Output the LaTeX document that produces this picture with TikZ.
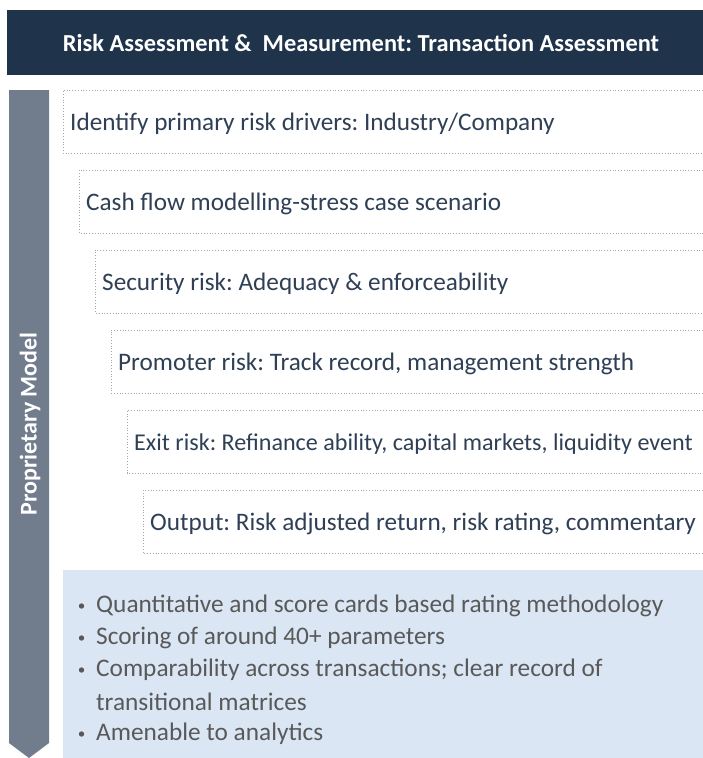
\documentclass[tikz,border=0pt]{standalone}
\usepackage{fontspec}
\setmainfont{Carlito}
\frenchspacing
\definecolor{navy}{HTML}{1F344A}
\definecolor{slatebar}{HTML}{717C8D}
\definecolor{itemtext}{HTML}{2F3F55}
\definecolor{dotgray}{HTML}{A6A6A6}
\definecolor{lightblue}{HTML}{DAE6F4}
\definecolor{bullettext}{HTML}{595959}
\begin{document}
\begin{tikzpicture}[x=1pt,y=-1pt,
  stepbox/.style={draw=dotgray, line width=0.8pt, dash pattern=on 0.8pt off 2pt},
  itemlabel/.style={anchor=west, inner sep=0pt, text=itemtext},
  bulletline/.style={anchor=west, inner sep=0pt, text=bullettext, font=\frenchspacing\fontsize{25.3}{29}\selectfont}]
\useasboundingbox (0,0) rectangle (703,758);
% header
\fill[navy] (7,10) rectangle (703,75);
\node[text=white, font=\frenchspacing\bfseries\fontsize{24.4}{28}\selectfont] (title) at (361,43) {Risk Assessment \&\ \ Measurement: Transaction Assessment};
% side arrow
\fill[slatebar] (9,90) -- (49,90) -- (49,743) -- (29,758) -- (9,743) -- cycle;
\node[rotate=90, text=white, font=\bfseries\fontsize{24}{28}\selectfont] (side) at (30,424) {Proprietary Model};
% stepped boxes
\foreach \i/\fs/\t in {0/25.2/{Identify primary risk drivers: Industry/Company},
                   1/25.2/{Cash flow modelling-stress case scenario},
                   2/25.2/{Security risk: Adequacy \& enforceability},
                   3/25.2/{Promoter risk: Track record, management strength},
                   4/24.1/{Exit risk: Refinance ability, capital markets, liquidity event},
                   5/25.2/{Output: Risk adjusted return, risk rating, commentary}}{
  \pgfmathsetmacro{\xl}{63+16*\i}
  \pgfmathsetmacro{\yt}{90+80*\i}
  \pgfmathsetmacro{\yb}{153+80*\i}
  \draw[stepbox] (703,\yt) -- (\xl,\yt) -- (\xl,\yb) -- (703,\yb);
  \node[itemlabel, font=\frenchspacing\fontsize{\fs}{29}\selectfont] (item\i) at (\xl+7,\yt+34) {\t};
}
% summary box
\fill[lightblue] (63,570) rectangle (703,758);
\foreach \y/\t in {604/{Quantitative and score cards based rating methodology},
                   636/{Scoring of around 40+ parameters},
                   668/{Comparability across transactions; clear record of},
                   732/{Amenable to analytics}}{
  \fill[bullettext] (81.5,\y+2) circle (2.7);
  \node[bulletline] at (96,\y+1.5) {\t};
}
\node[bulletline] (cont) at (96,701.5) {transitional matrices};
\end{tikzpicture}
\end{document}
